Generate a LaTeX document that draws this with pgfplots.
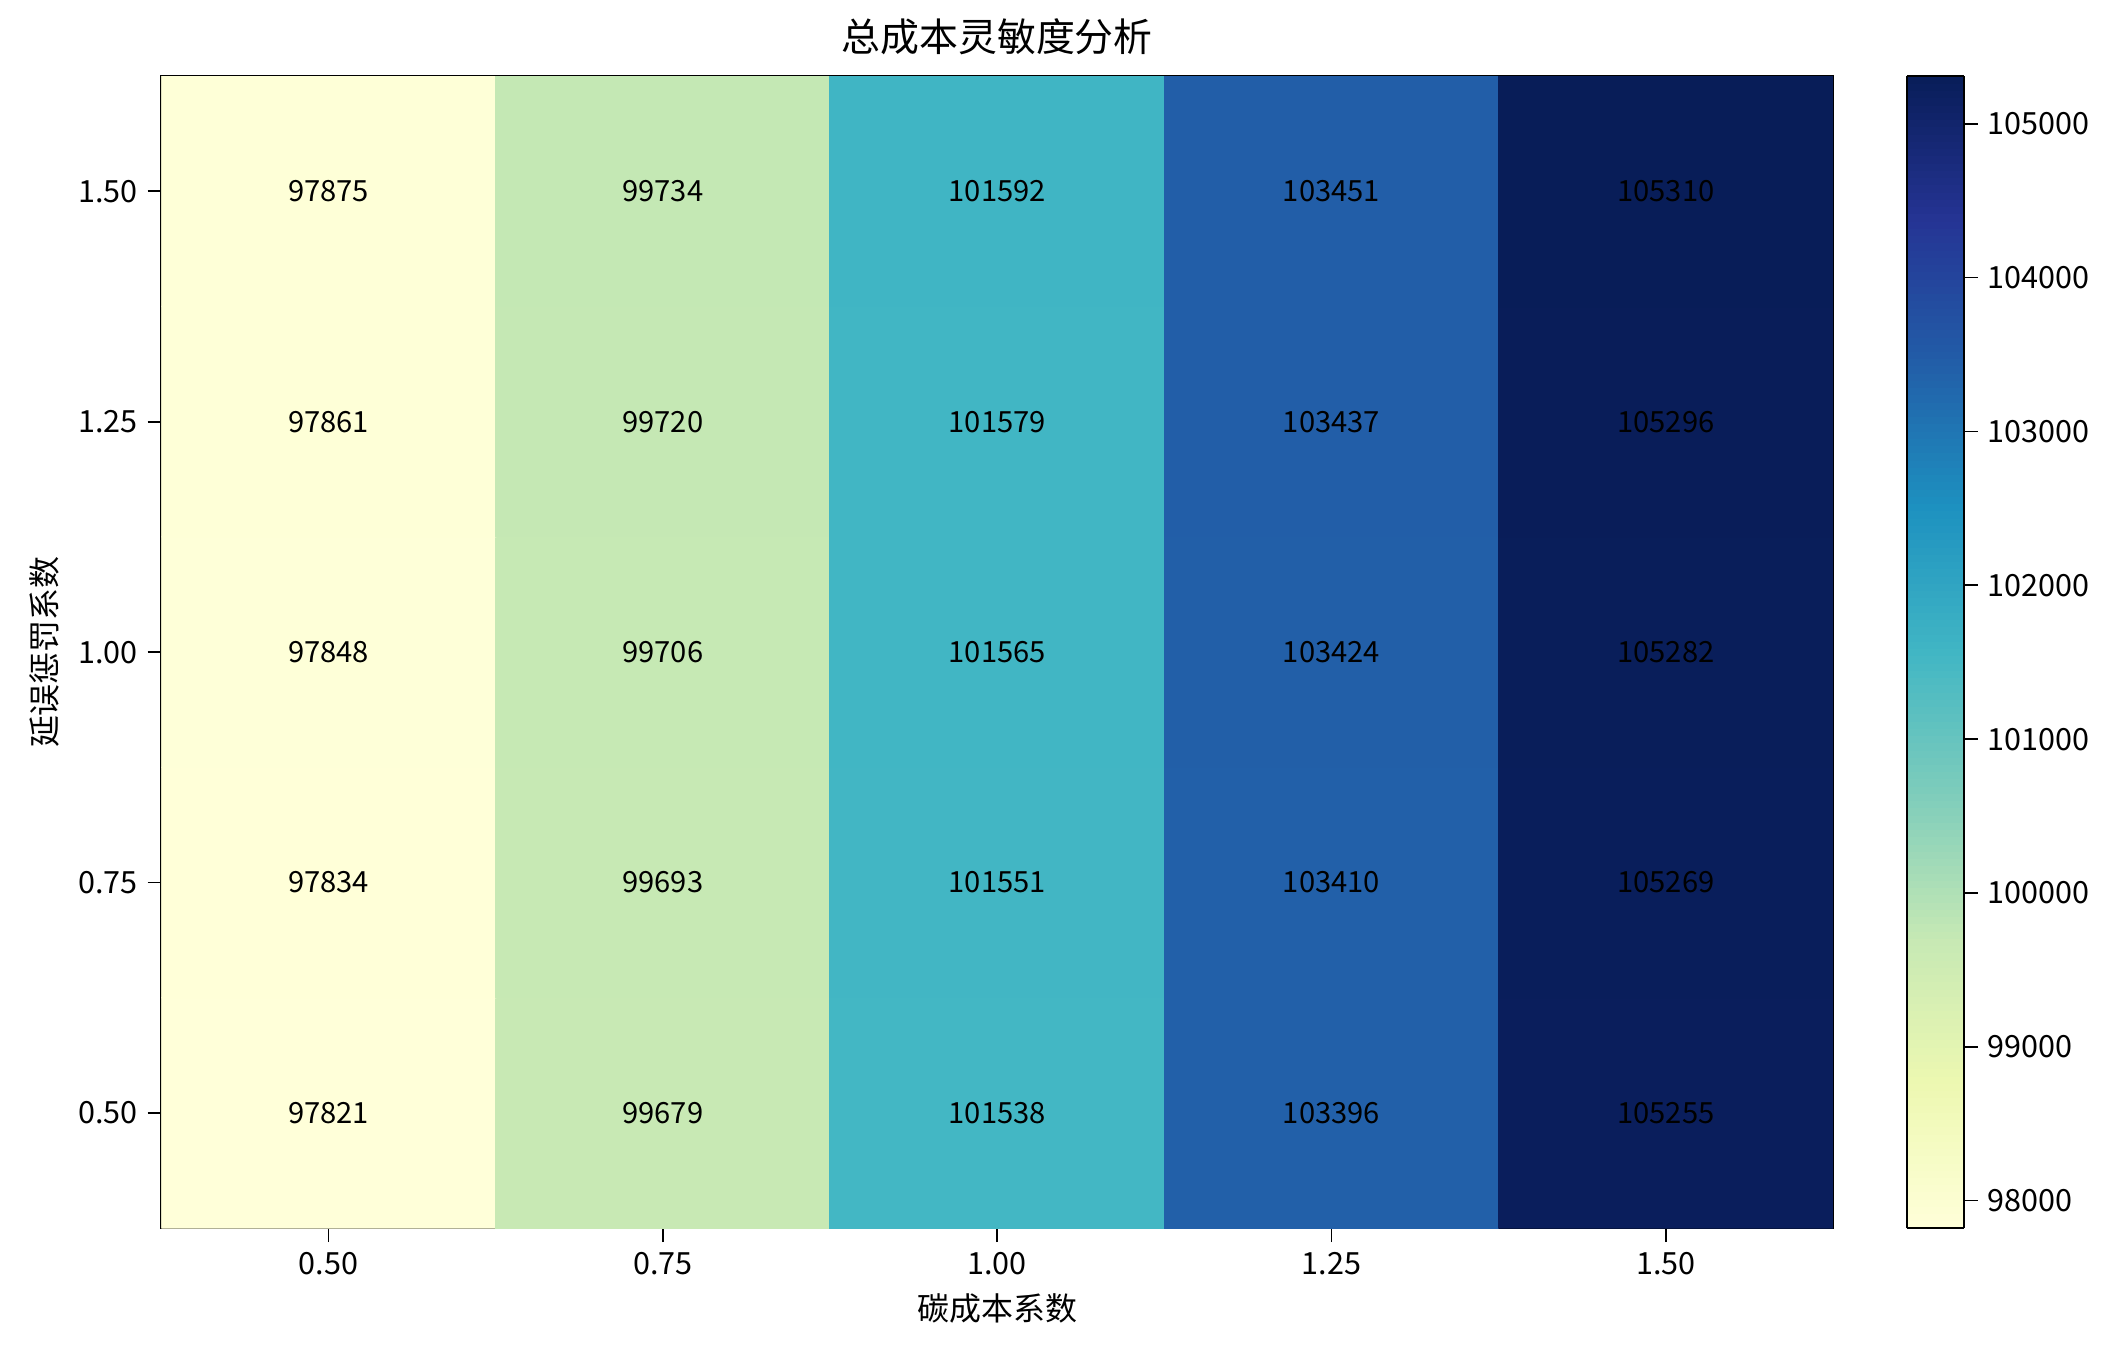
\documentclass[border=0pt]{standalone}
\usepackage{pgfplots}
\pgfplotsset{compat=1.18}
\usepackage{fontspec}
\setmainfont{Noto Sans CJK SC}
\begin{document}
\begin{tikzpicture}
\path[use as bounding box] (-58.1pt,-46.4pt) rectangle (707.9pt,442.1pt);
\begin{axis}[
  at={(0,0)}, anchor=south west,
  scale only axis, width=601.7pt, height=414.7pt,
  xmin=0.375, xmax=1.625, ymin=0.375, ymax=1.625,
  xtick={0.5,0.75,1,1.25,1.5}, ytick={0.5,0.75,1,1.25,1.5},
  xtick pos=bottom, ytick pos=left,
  tick align=outside, tick style={black, line width=0.6pt}, major tick length=5pt,
  /pgf/number format/assume math mode=true,
  xticklabel style={font=\fontsize{11}{13}\selectfont, /pgf/number format/fixed, /pgf/number format/fixed zerofill, /pgf/number format/precision=2},
  yticklabel style={font=\fontsize{11}{13}\selectfont, /pgf/number format/fixed, /pgf/number format/fixed zerofill, /pgf/number format/precision=2},
  axis line style={line width=0.8pt},
  title={总成本灵敏度分析}, title style={font=\fontsize{14}{16}\selectfont, yshift=-2pt},
  xlabel={碳成本系数}, ylabel={延误惩罚系数},
  xlabel style={font=\fontsize{11.5}{13}\selectfont},
  ylabel style={font=\fontsize{11.5}{13}\selectfont},
  colormap={ylgnbu}{rgb255=(255,255,217) rgb255=(237,248,177) rgb255=(199,233,180) rgb255=(127,205,187) rgb255=(65,182,196) rgb255=(29,145,192) rgb255=(34,94,168) rgb255=(37,52,148) rgb255=(8,29,88)},
  point meta min=97821, point meta max=105310,
  colorbar sampled,
  colorbar shift/.style={},
  colorbar style={
    at={(parent axis.north east)}, anchor=north west, xshift=26.6pt,
    scale only axis, width=20.5pt, height=414.7pt,
    samples=160,
    ytick={98000,99000,100000,101000,102000,103000,104000,105000},
    scaled y ticks=false, ytick pos=right,
    yticklabel style={font=\fontsize{11}{13}\selectfont, /pgf/number format/1000 sep={}, /pgf/number format/fixed},
    /pgf/number format/assume math mode=true,
    tick align=outside, major tick length=5pt,
    tick style={black, line width=0.6pt},
    axis line style={line width=0.8pt},
  },
  nodes near coords style={font=\fontsize{10.5}{12}\selectfont, text=black, anchor=center},
]
\addplot[matrix plot*, mesh/cols=5, point meta=explicit] table[meta=c] {
x y c
0.5 0.5 97821
0.75 0.5 99679
1.0 0.5 101538
1.25 0.5 103396
1.5 0.5 105255
0.5 0.75 97834
0.75 0.75 99693
1.0 0.75 101551
1.25 0.75 103410
1.5 0.75 105269
0.5 1.0 97848
0.75 1.0 99706
1.0 1.0 101565
1.25 1.0 103424
1.5 1.0 105282
0.5 1.25 97861
0.75 1.25 99720
1.0 1.25 101579
1.25 1.25 103437
1.5 1.25 105296
0.5 1.5 97875
0.75 1.5 99734
1.0 1.5 101592
1.25 1.5 103451
1.5 1.5 105310
};
\addplot[only marks, mark=none, nodes near coords, point meta=explicit symbolic] table[meta=c] {
x y c
0.5 0.5 97821
0.75 0.5 99679
1.0 0.5 101538
1.25 0.5 103396
1.5 0.5 105255
0.5 0.75 97834
0.75 0.75 99693
1.0 0.75 101551
1.25 0.75 103410
1.5 0.75 105269
0.5 1.0 97848
0.75 1.0 99706
1.0 1.0 101565
1.25 1.0 103424
1.5 1.0 105282
0.5 1.25 97861
0.75 1.25 99720
1.0 1.25 101579
1.25 1.25 103437
1.5 1.25 105296
0.5 1.5 97875
0.75 1.5 99734
1.0 1.5 101592
1.25 1.5 103451
1.5 1.5 105310
};
\end{axis}
\end{tikzpicture}
\end{document}
